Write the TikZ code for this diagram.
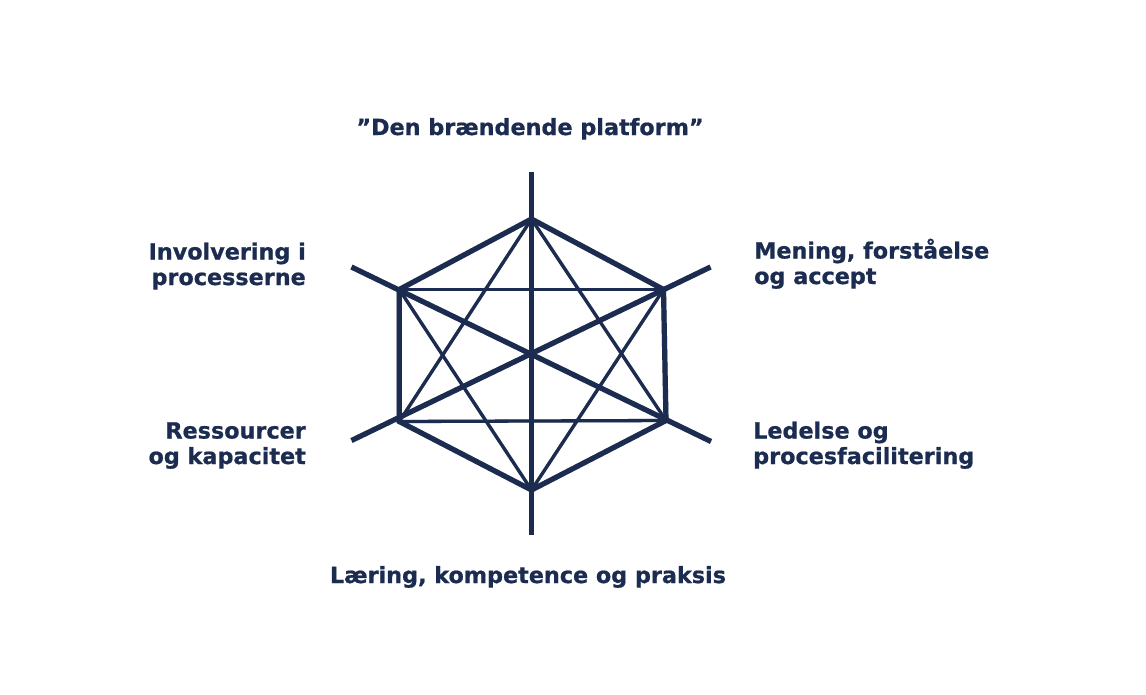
\documentclass[tikz,border=0pt]{standalone}
\usepackage{fontspec}
\setmainfont{DejaVu Sans}[BoldFeatures={FakeBold=0.8}]
\definecolor{navy}{HTML}{1B2C50}
\newcommand{\hexfig}{%
  \draw[thickln] (AT) -- (AB);
  \draw[thickln] (AUL) -- (ALR);
  \draw[thickln] (AUR) -- (ALL);
  \draw[thickln, line join=miter] (T) -- (UR) -- (LR) -- (B) -- (LL) -- (UL) -- cycle;
  \draw[thinln] (UL) -- (UR);
  \draw[thinln] (LL) -- (LR);
  \draw[thinln] (T) -- (LL);
  \draw[thinln] (T) -- (LR);
  \draw[thinln] (B) -- (UL);
  \draw[thinln] (B) -- (UR);
}
\begin{document}
\begin{tikzpicture}[x=1pt,y=-1pt,
  thickln/.style={line width=5.2pt},
  thinln/.style={line width=3.3pt},
  lbl/.style={font=\bfseries\fontsize{22.3}{25.5}\selectfont, text=navy, inner sep=0pt}]
\useasboundingbox (0,0) rectangle (1146,694);
\coordinate (C) at (531.5,355);
\coordinate (T) at (531.5,219);
\coordinate (B) at (531.5,490);
\coordinate (UL) at (399.3,289.5);
\coordinate (UR) at (663.5,289.5);
\coordinate (LL) at (399.3,421.5);
\coordinate (LR) at (666,420.5);
\coordinate (AT) at (531.5,172);
\coordinate (AB) at (531.5,535);
\coordinate (AUL) at (351.5,267);
\coordinate (ALR) at (711,441.5);
\coordinate (AUR) at (710.5,267);
\coordinate (ALL) at (351.5,440.5);
% soft shadow
\foreach \d/\o in {2/0.07,3.5/0.07,5/0.06,6.5/0.05,8/0.04}{
  \begin{scope}[shift={(\d,\d)}, draw=black, opacity=\o]
    \hexfig
  \end{scope}
}
\begin{scope}[draw=navy]
  \hexfig
\end{scope}
\node[lbl, anchor=base] (title) at (530,135) {”Den brændende platform”};
\node[lbl, anchor=base east, align=right] (inv) at (306,285) {Involvering i\\processerne};
\node[lbl, anchor=base west, align=left] (men) at (754,284) {Mening, forståelse\\og accept};
\node[lbl, anchor=base east, align=right] (res) at (306,464) {Ressourcer\\og kapacitet};
\node[lbl, anchor=base west, align=left] (led) at (753,464) {Ledelse og\\procesfacilitering};
\node[lbl, anchor=base] (lae) at (528,583) {Læring, kompetence og praksis};
\end{tikzpicture}
\end{document}
